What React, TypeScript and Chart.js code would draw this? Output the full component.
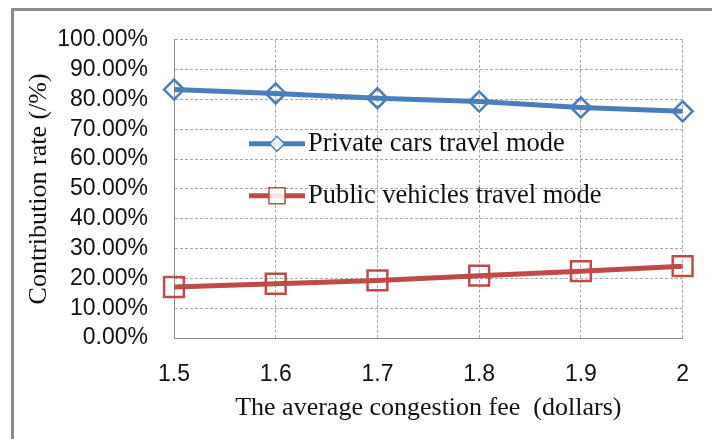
import React, { useEffect, useRef } from "react";
import { Chart, registerables } from "chart.js";

Chart.register(...registerables);

const fees = [1.5, 1.6, 1.7, 1.8, 1.9, 2.0];
const privateCars = [83.3, 82.0, 80.4, 79.3, 77.3, 76.0];
const publicVehicles = [17.1, 18.2, 19.3, 20.9, 22.4, 24.1];
const seriesLabels = ["Private cars travel mode", "Public vehicles travel mode"];
const yTitle = "Contribution rate (/%)";
const xTitle = "The average congestion fee  (dollars)";

const BLUE = "#4a7ebb";
const RED = "#be4b48";
const SERIF = "'Liberation Serif', 'Times New Roman', serif";
const SANS = "'Liberation Sans', Arial, sans-serif";

const legendPlugin = {
  id: "innerLegend",
  afterDatasetsDraw(chart: any) {
    const { ctx, chartArea } = chart;
    const items = [
      { y: chartArea.top + 104, color: BLUE, style: "diamond", r: 7.5 },
      { y: chartArea.top + 156, color: RED, style: "square", r: 8 },
    ];
    ctx.save();
    items.forEach((it, i) => {
      const x0 = chartArea.left + 75;
      const x1 = chartArea.left + 131;
      const cx = (x0 + x1) / 2;
      ctx.strokeStyle = it.color;
      ctx.lineWidth = 5;
      ctx.beginPath();
      ctx.moveTo(x0, it.y);
      ctx.lineTo(x1, it.y);
      ctx.stroke();
      ctx.lineWidth = 1.5;
      ctx.fillStyle = "rgba(255,255,255,0.85)";
      ctx.beginPath();
      if (it.style === "diamond") {
        ctx.moveTo(cx - it.r, it.y);
        ctx.lineTo(cx, it.y - it.r);
        ctx.lineTo(cx + it.r, it.y);
        ctx.lineTo(cx, it.y + it.r);
        ctx.closePath();
      } else {
        ctx.rect(cx - it.r, it.y - it.r, 2 * it.r, 2 * it.r);
      }
      ctx.fill();
      ctx.stroke();
      ctx.fillStyle = "#111";
      ctx.font = `26.5px ${SERIF}`;
      ctx.textBaseline = "middle";
      ctx.textAlign = "left";
      ctx.fillText(seriesLabels[i], x1 + 3, it.y);
    });
    ctx.restore();
  },
};

export default function App() {
  const ref = useRef<HTMLCanvasElement>(null);
  useEffect(() => {
    if (!ref.current) return;
    const toPts = (vals: number[]) => vals.map((v, i) => ({ x: fees[i], y: v }));
    const chart = new Chart(ref.current, {
      type: "line",
      data: {
        datasets: [
          {
            label: seriesLabels[0],
            data: toPts(privateCars),
            borderColor: BLUE,
            backgroundColor: "transparent",
            borderWidth: 5,
            pointStyle: "rectRot",
            pointRadius: 10,
            pointBorderWidth: 2.5,
            pointBorderColor: BLUE,
            pointBackgroundColor: "transparent",
            clip: false,
          },
          {
            label: seriesLabels[1],
            data: toPts(publicVehicles),
            borderColor: RED,
            backgroundColor: "transparent",
            borderWidth: 5,
            pointStyle: "rect",
            pointRadius: 14,
            pointBorderWidth: 2.5,
            pointBorderColor: RED,
            pointBackgroundColor: "transparent",
            clip: false,
          },
        ],
      },
      options: {
        animation: false,
        responsive: false,
        layout: { padding: { top: 38, right: 21, left: 0, bottom: 0 } },
        plugins: { legend: { display: false }, tooltip: { enabled: false } },
        scales: {
          x: {
            type: "linear",
            min: 1.5,
            max: 2,
            afterFit: (s: any) => { s.height = 101; },
            ticks: {
              stepSize: 0.1,
              autoSkip: false,
              padding: 23,
              color: "#111",
              font: { family: SANS, size: 23 },
              callback: (v: any) => String(Number(Number(v).toFixed(1))),
            },
            grid: { color: "#a6a6a6", drawTicks: false, lineWidth: 1 },
            border: { display: true, color: "#8c8c8c", width: 1, dash: [3, 2] },
            title: {
              display: true,
              text: xTitle,
              color: "#111",
              font: { family: SERIF, size: 26 },
              padding: { top: 0, bottom: 15 },
            },
          },
          y: {
            min: 0,
            max: 100,
            afterFit: (s: any) => { s.width = 174; },
            ticks: {
              stepSize: 10,
              autoSkip: false,
              padding: 26,
              color: "#111",
              font: { family: SANS, size: 23 },
              callback: (v: any) => Number(v).toFixed(2) + "%",
            },
            grid: { color: "#a6a6a6", drawTicks: false, lineWidth: 1 },
            border: { display: true, color: "#8c8c8c", width: 1, dash: [3, 2] },
            title: {
              display: true,
              text: yTitle,
              color: "#111",
              font: { family: SERIF, size: 26 },
              padding: { top: 24, bottom: 0 },
            },
          },
        },
      },
      plugins: [legendPlugin],
    } as any);
    return () => chart.destroy();
  }, []);
  return (
    <div style={{ position: "absolute", left: 0, top: 0, width: 712, height: 439, background: "#fff", overflow: "hidden" }}>
      <div
        style={{
          position: "absolute",
          left: 11,
          top: 8,
          width: 720,
          height: 450,
          borderLeft: "3px solid #8c8c8c",
          borderTop: "3px solid #8c8c8c",
        }}
      />
      <canvas ref={ref} width={712} height={439} style={{ position: "absolute", left: 0, top: 0, width: 712, height: 439 }} />
    </div>
  );
}
